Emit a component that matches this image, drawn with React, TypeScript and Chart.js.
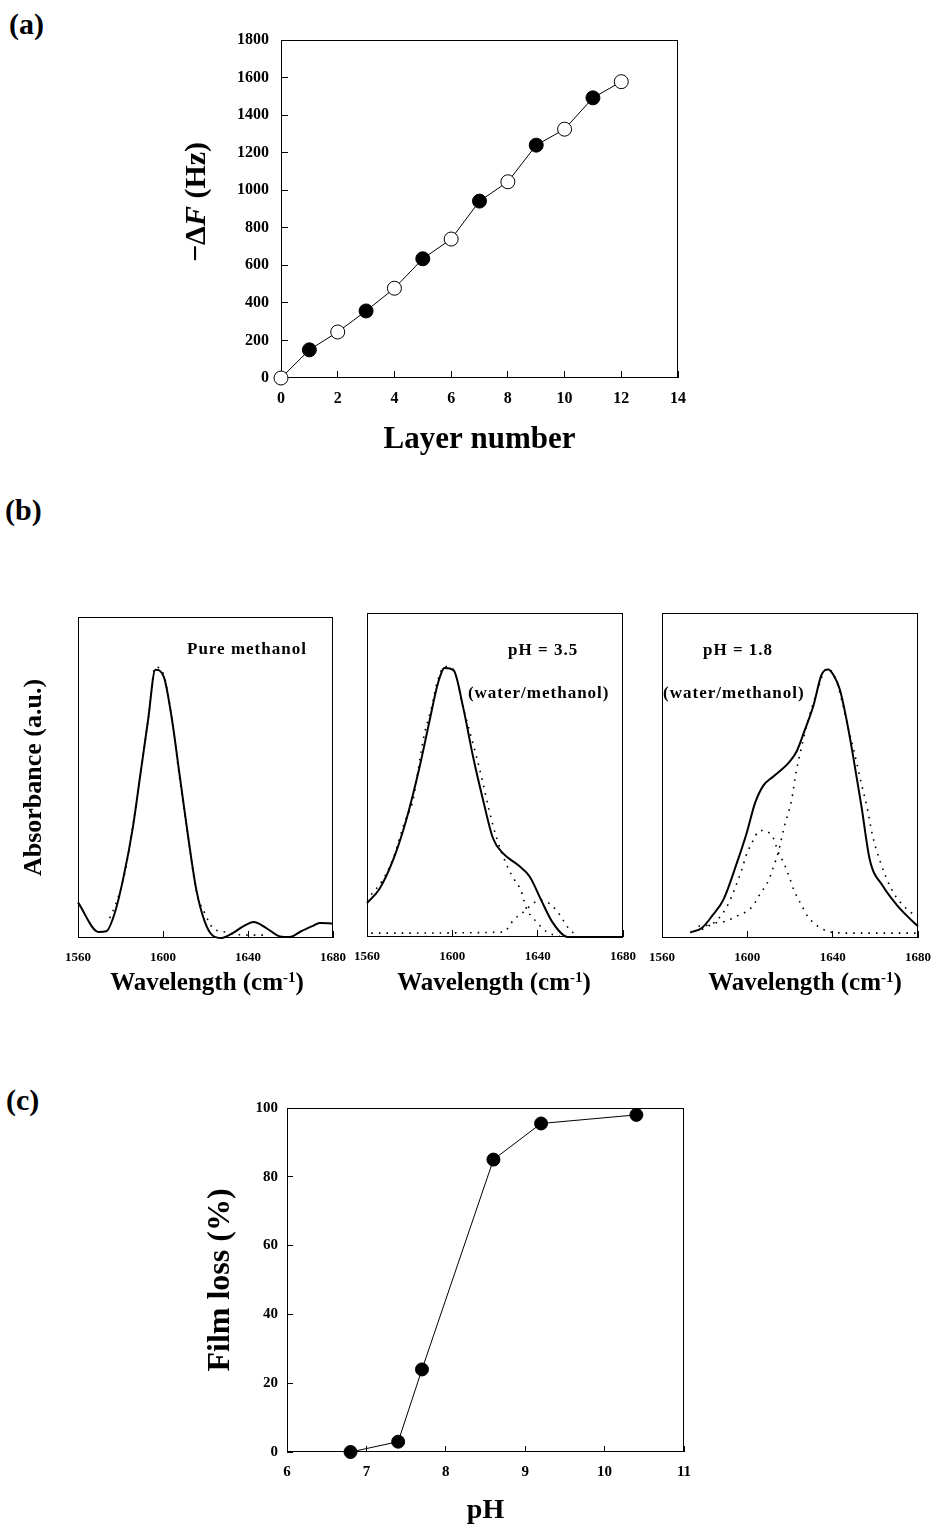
import React, { useEffect, useRef } from "react";
import { Chart, registerables } from "chart.js";

Chart.register(...registerables);

const SERIF = "'Liberation Serif', 'Times New Roman', Times, serif";

// ---------------- (a) QCM frequency shift vs layer number ----------------
const layerNumber = [0, 1, 2, 3, 4, 5, 6, 7, 8, 9, 10, 11, 12];
const deltaFHz = [0, 150, 245, 357, 478, 635, 740, 942, 1045, 1240, 1325, 1492, 1578];
const layerTicks = [0, 2, 4, 6, 8, 10, 12, 14];
const deltaFTicks = [0, 200, 400, 600, 800, 1000, 1200, 1400, 1600, 1800];

// ---------------- (b) FTIR spectra ----------------
const wavenumberTicks = [1560, 1600, 1640, 1680];
const absorbanceRange = [0, 100];

// pure methanol
const methanolWn = [1560, 1569.7, 1573.3, 1577.3, 1581.5, 1585.9, 1589, 1593, 1596.4, 1600.3, 1604, 1607.9, 1611.8, 1615.7, 1619.6, 1623.5, 1627.5, 1633, 1637.7, 1642.7, 1648.6, 1655, 1659.6, 1665, 1670.6, 1673.7, 1680];
const methanolAbs = [11.1, 1.9, 2.1, 7.8, 19.2, 34.8, 49.3, 68, 83.6, 81.5, 69, 50.4, 31.7, 15, 5.2, 0.7, 0, 1.6, 3.6, 5, 3.1, 0.5, 0.3, 2.1, 3.8, 4.7, 4.5];
const methanolFitWn = [1574.9, 1577.7, 1582.0, 1585.9, 1589.8, 1593.0, 1596.4, 1600.3, 1603.9, 1607.9, 1611.8, 1615.7, 1619.6, 1623.5, 1629.8, 1636.1, 1642.4, 1648.6];
const methanolFitAbs = [6.2, 10.4, 20.2, 35.3, 53.0, 68.0, 84.4, 82.0, 69.6, 49.3, 31.7, 14.5, 7.8, 3.1, 1.8, 1.0, 0.9, 0.9];

// pH 3.5
const ph35Wn = [1560, 1565.9, 1572.2, 1578.4, 1584.7, 1589.4, 1593.3, 1596.4, 1600.6, 1605, 1609.7, 1614.4, 1619.1, 1623.8, 1630.8, 1636.3, 1641.7, 1646.9, 1654.2, 1661.3, 1680];
const ph35Abs = [10.5, 14.9, 23.7, 36.1, 52.6, 67, 78.4, 83, 82.3, 71.1, 55.7, 42.3, 30.4, 25.8, 22.2, 18.6, 11.3, 4.6, 0, 0, 0];
const ph35FitAWn = [1562, 1567, 1570.6, 1573, 1577.7, 1581.6, 1584.7, 1587, 1590.2, 1592.8, 1596.4, 1600.6, 1605, 1611.3, 1614.4, 1617.2, 1620.6, 1625.3, 1628.4, 1632.3, 1634.4, 1639.1, 1644.5, 1650.3];
const ph35FitAAbs = [13.1, 17.2, 21.6, 25.6, 35.6, 42.3, 54.6, 62.9, 70.6, 78.4, 83.5, 82.5, 71.1, 55.7, 47.4, 39.2, 30.9, 22.5, 18.4, 14.1, 9.3, 4.9, 1.5, 0.2];
const ph35FitBWn = [1562, 1623.8, 1628.9, 1634.2, 1638.1, 1641.7, 1645.6, 1650.3, 1654, 1658];
const ph35FitBAbs = [1.2, 1.5, 5.4, 8.2, 10.5, 11.3, 10.3, 6.9, 3.1, 0.5];

// pH 1.8
const ph18Wn = [1573.2, 1578.7, 1583.4, 1588.8, 1595.1, 1599.7, 1603.6, 1607.5, 1612.2, 1619.2, 1623.1, 1627, 1630.9, 1634.8, 1637.9, 1640.3, 1643.4, 1646.5, 1649.6, 1653.5, 1657.4, 1663.6, 1669.9, 1675.3, 1680];
const ph18Abs = [1.7, 3.1, 6.7, 11.8, 23.1, 32.3, 41.5, 46.9, 49.7, 53.8, 57.4, 64.1, 71.3, 81, 82.6, 81, 76.4, 67.2, 55.9, 40.5, 24.1, 15.9, 10.3, 6.5, 3.6];
const ph18FitAWn = [1578.7, 1584.9, 1589.6, 1595.1, 1602.1, 1606, 1609.9, 1612.2, 1614.5, 1617.3, 1620.8, 1622.8, 1625.5, 1628.6, 1632.5, 1637.1, 1641, 1644.5, 1647.3, 1650.4, 1653.2, 1656.2, 1658.6, 1662.4, 1667.5, 1671.7, 1677.7, 1680];
const ph18FitAAbs = [2.6, 4.6, 5.1, 6.7, 9.5, 13.6, 17.7, 21.8, 26.4, 34.2, 42.6, 50.8, 59, 67.2, 75.4, 82.8, 80.5, 72.5, 64.6, 56.4, 48.2, 40, 31.8, 23.3, 15.1, 11, 7.4, 6.7];
const ph18FitBWn = [1577.1, 1584.2, 1589.6, 1592.7, 1595.1, 1597.4, 1599.4, 1602.1, 1606, 1611.9, 1614.5, 1617.2, 1619.7, 1621.9, 1625, 1628.6, 1634.3, 1640.3, 1650, 1665, 1680];
const ph18FitBAbs = [3.6, 4.6, 8.7, 12.8, 16.9, 21, 25.3, 29.2, 33.1, 31.1, 26.4, 22.9, 18.7, 14.6, 10.6, 6.4, 3.1, 1.7, 1.5, 1.5, 1.5];

const methanolNotes = [{ text: "Pure methanol", x: 1611.3, y: 89.7 }];
const ph35Notes = [
  { text: "pH = 3.5", x: 1626.1, y: 88.3 },
  { text: "(water/methanol)", x: 1607.3, y: 75.2 },
];
const ph18Notes = [
  { text: "pH = 1.8", x: 1579.2, y: 88.3 },
  { text: "(water/methanol)", x: 1560.5, y: 75.2 },
];

// ---------------- (c) Film loss vs pH ----------------
const phValues = [6.8, 7.4, 7.7, 8.6, 9.2, 10.4];
const filmLossPct = [0, 3, 24, 85, 95.5, 98];
const phTicks = [6, 7, 8, 9, 10, 11];
const filmLossTicks = [0, 20, 40, 60, 80, 100];

// ---------------------------------------------------------------
const zip = (xs: number[], ys: number[]) => xs.map((x, i) => ({ x, y: ys[i] }));

const framePlugin = {
  id: "frame",
  beforeDatasetsDraw(chart: any) {
    const { ctx, chartArea: a } = chart;
    ctx.save();
    ctx.strokeStyle = "#000";
    ctx.lineWidth = 1;
    ctx.strokeRect(
      Math.round(a.left) + 0.5,
      Math.round(a.top) + 0.5,
      Math.round(a.right - a.left) - 1,
      Math.round(a.bottom - a.top) - 1
    );
    ctx.restore();
  },
};

const makeNotes = (items: { text: string; x: number; y: number }[]) => ({
  id: "notes",
  afterDatasetsDraw(chart: any) {
    const { ctx, scales } = chart;
    ctx.save();
    ctx.fillStyle = "#000";
    ctx.font = `bold 17px ${SERIF}`;
    ctx.textAlign = "left";
    ctx.textBaseline = "middle";
    try {
      (ctx as any).letterSpacing = "1px";
    } catch (e) {}
    for (const it of items) {
      ctx.fillText(it.text, scales.x.getPixelForValue(it.x), scales.y.getPixelForValue(it.y));
    }
    ctx.restore();
  },
});

type AxisOpts = {
  position: "left" | "bottom";
  ticks: number[];
  min?: number;
  max?: number;
  size: number;
  fontSize: number;
  pad: number;
  tick: number;
  labels: boolean;
  title?: { text: string; size: number; lineHeight?: number; padding: any };
};

function makeAxis(o: AxisOpts) {
  const horizontal = o.position === "bottom";
  return {
    type: "linear",
    position: o.position,
    min: o.min ?? o.ticks[0],
    max: o.max ?? o.ticks[o.ticks.length - 1],
    afterBuildTicks: (s: any) => {
      s.ticks = o.ticks.map((v) => ({ value: v }));
    },
    ticks: {
      display: o.labels,
      autoSkip: false,
      maxRotation: 0,
      minRotation: 0,
      padding: o.pad,
      color: "#000",
      font: { family: SERIF, size: o.fontSize, weight: "bold" },
      callback: (v: any) => String(v),
    },
    grid: {
      display: o.tick > 0,
      drawOnChartArea: false,
      drawTicks: true,
      tickLength: -o.tick,
      color: "#000",
      lineWidth: 1,
    },
    border: { display: false },
    title: o.title
      ? {
          display: true,
          text: o.title.text,
          color: "#000",
          font: { family: SERIF, size: o.title.size, weight: "bold", lineHeight: o.title.lineHeight ?? 1.2 },
          padding: o.title.padding,
        }
      : { display: false },
    afterFit: (s: any) => {
      if (horizontal) s.height = o.size;
      else s.width = o.size;
      // keep the plot area where the layout padding puts it
      s.paddingTop = 0;
      s.paddingBottom = 0;
      s.paddingLeft = 0;
      s.paddingRight = 0;
    },
  };
}

function baseOptions(padding: any, x: any, y: any) {
  return {
    responsive: false,
    maintainAspectRatio: false,
    animation: false,
    events: [],
    layout: { padding },
    plugins: { legend: { display: false }, tooltip: { enabled: false }, title: { display: false } },
    scales: { x, y },
  };
}

const solid = (data: any[]) => ({
  data,
  showLine: true,
  borderColor: "#000",
  borderWidth: 2,
  pointRadius: 0,
  cubicInterpolationMode: "monotone",
  clip: false,
});
const dotted = (data: any[]) => ({
  data,
  showLine: true,
  borderColor: "#000",
  borderWidth: 1.6,
  borderDash: [1.6, 6],
  pointRadius: 0,
  cubicInterpolationMode: "monotone",
  clip: false,
});

function spectrumConfig(
  yWidth: number,
  xHeight: number,
  padding: any,
  datasets: any[],
  notes: any[],
  yTitle?: string
) {
  return {
    type: "scatter",
    data: { datasets },
    options: baseOptions(
      padding,
      makeAxis({ position: "bottom", ticks: wavenumberTicks, size: xHeight, fontSize: 13, pad: 19, tick: 7, labels: true }),
      makeAxis({
        position: "left",
        ticks: absorbanceRange,
        size: yWidth,
        fontSize: 13,
        pad: 0,
        tick: 0,
        labels: false,
        title: yTitle ? { text: yTitle, size: 26, padding: { top: 9, bottom: 0 } } : undefined,
      })
    ),
    plugins: [framePlugin, makeNotes(notes)],
  };
}

function Text(props: { x: number; y: number; size: number; align?: "left" | "center"; rotate?: boolean; children: any }) {
  const { x, y, size, align = "center", rotate, children } = props;
  const tx = align === "left" ? "0" : "-50%";
  return (
    <div
      style={{
        position: "absolute",
        left: x,
        top: y,
        fontFamily: SERIF,
        fontWeight: "bold",
        fontSize: size,
        lineHeight: 1,
        whiteSpace: "nowrap",
        color: "#000",
        transform: `translate(${tx}, -50%)${rotate ? " rotate(-90deg)" : ""}`,
      }}
    >
      {children}
    </div>
  );
}

function Wavelength({ x }: { x: number }) {
  return (
    <Text x={x} y={981} size={25}>
      Wavelength (cm
      <span style={{ fontSize: "0.6em", position: "relative", top: "-0.55em" }}>-1</span>)
    </Text>
  );
}

export default function App() {
  const refA = useRef<HTMLCanvasElement>(null);
  const refB1 = useRef<HTMLCanvasElement>(null);
  const refB2 = useRef<HTMLCanvasElement>(null);
  const refB3 = useRef<HTMLCanvasElement>(null);
  const refC = useRef<HTMLCanvasElement>(null);

  useEffect(() => {
    const charts: Chart[] = [];

    // (a)
    charts.push(
      new Chart(refA.current as any, {
        type: "scatter",
        data: {
          datasets: [
            {
              data: zip(layerNumber, deltaFHz),
              showLine: true,
              borderColor: "#000",
              borderWidth: 1,
              pointRadius: 7,
              pointBorderWidth: 1,
              pointBorderColor: "#000",
              pointBackgroundColor: (c: any) => (layerNumber[c.dataIndex] % 2 === 1 ? "#000" : "#fff"),
              clip: false,
            },
          ],
        },
        options: baseOptions(
          { left: 0, right: 32, top: 20, bottom: 0 },
          makeAxis({
            position: "bottom",
            ticks: layerTicks,
            size: 92,
            fontSize: 16,
            pad: 18,
            tick: 7,
            labels: true,
            title: { text: "Layer number", size: 31, padding: { top: 0, bottom: 11 } },
          }),
          makeAxis({ position: "left", ticks: deltaFTicks, size: 131, fontSize: 16, pad: 19, tick: 7, labels: true })
        ),
        plugins: [framePlugin],
      } as any)
    );

    // (b)
    charts.push(
      new Chart(
        refB1.current as any,
        spectrumConfig(
          68,
          72,
          { left: 0, right: 27, top: 17, bottom: 0 },
          [solid(zip(methanolWn, methanolAbs)), dotted(zip(methanolFitWn, methanolFitAbs))],
          methanolNotes,
          "Absorbance (a.u.)"
        ) as any
      )
    );
    charts.push(
      new Chart(
        refB2.current as any,
        spectrumConfig(
          27,
          73,
          { left: 0, right: 27, top: 13, bottom: 0 },
          [solid(zip(ph35Wn, ph35Abs)), dotted(zip(ph35FitAWn, ph35FitAAbs)), dotted(zip(ph35FitBWn, ph35FitBAbs))],
          ph35Notes
        ) as any
      )
    );
    charts.push(
      new Chart(
        refB3.current as any,
        spectrumConfig(
          27,
          72,
          { left: 0, right: 20, top: 13, bottom: 0 },
          [solid(zip(ph18Wn, ph18Abs)), dotted(zip(ph18FitAWn, ph18FitAAbs)), dotted(zip(ph18FitBWn, ph18FitBAbs))],
          ph18Notes
        ) as any
      )
    );

    // (c)
    charts.push(
      new Chart(refC.current as any, {
        type: "scatter",
        data: {
          datasets: [
            {
              data: zip(phValues, filmLossPct),
              showLine: true,
              borderColor: "#000",
              borderWidth: 1,
              pointRadius: 6.5,
              pointBorderWidth: 1,
              pointBorderColor: "#000",
              pointBackgroundColor: "#000",
              clip: false,
            },
          ],
        },
        options: baseOptions(
          { left: 0, right: 26, top: 13, bottom: 0 },
          makeAxis({
            position: "bottom",
            ticks: phTicks,
            size: 74,
            fontSize: 15,
            pad: 17,
            tick: 6,
            labels: true,
            title: { text: "pH", size: 28, lineHeight: 1, padding: { top: 0, bottom: 1 } },
          }),
          makeAxis({
            position: "left",
            ticks: filmLossTicks,
            size: 97,
            fontSize: 15,
            pad: 15,
            tick: 6,
            labels: true,
            title: { text: "Film loss (%)", size: 32, padding: { top: 12, bottom: 0 } },
          })
        ),
        plugins: [framePlugin],
      } as any)
    );

    return () => {
      charts.forEach((c) => c.destroy());
    };
  }, []);

  const cv = (left: number, top: number) => ({ position: "absolute" as const, left, top });

  return (
    <div
      style={{
        position: "absolute",
        left: 0,
        top: 0,
        width: 938,
        height: 1526,
        overflow: "hidden",
        background: "#fff",
      }}
    >
      <canvas ref={refA} width={560} height={450} style={{ ...cv(150, 20), width: 560, height: 450 }} />
      <canvas ref={refB1} width={350} height={410} style={{ ...cv(10, 600), width: 350, height: 410 }} />
      <canvas ref={refB2} width={310} height={410} style={{ ...cv(340, 600), width: 310, height: 410 }} />
      <canvas ref={refB3} width={303} height={410} style={{ ...cv(635, 600), width: 303, height: 410 }} />
      <canvas ref={refC} width={520} height={431} style={{ ...cv(190, 1095), width: 520, height: 431 }} />

      <Text x={9} y={24} size={30} align="left">(a)</Text>
      <Text x={5} y={510} size={30} align="left">(b)</Text>
      <Text x={6} y={1100} size={30} align="left">(c)</Text>

      <Text x={195} y={202} size={30} rotate>
        −Δ<i>F</i> (Hz)
      </Text>

      <Wavelength x={207} />
      <Wavelength x={494} />
      <Wavelength x={805} />
    </div>
  );
}
